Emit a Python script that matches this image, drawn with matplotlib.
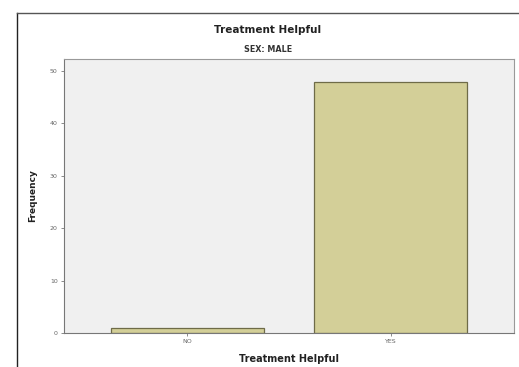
import matplotlib
matplotlib.use("Agg")
import matplotlib.pyplot as plt
from matplotlib.lines import Line2D

categories = ["NO", "YES"]
frequencies = [1, 48]
yticks = [0, 10, 20, 30, 40, 50]
title = "Treatment Helpful"
subtitle = "SEX: MALE"
xlabel = "Treatment Helpful"
ylabel = "Frequency"

fig = plt.figure(figsize=(5.19, 3.67), dpi=100)
W, H = 519, 367
ax = fig.add_axes([64 / W, 1 - 333 / H, (514 - 64) / W, (333 - 59) / H])
ax.set_facecolor("#f0f0f0")

x = list(range(len(categories)))
ax.bar(x, frequencies, width=0.75, color="#d3cf98", edgecolor="#6e6b48", linewidth=0.9)
ax.set_xlim(-0.603, 1.603)
ax.set_ylim(0, 52.3)
ax.set_yticks(yticks)
ax.set_yticklabels([str(t) for t in yticks], fontsize=4.5, color="#666666")
ax.set_xticks(x)
ax.set_xticklabels(categories, fontsize=4.5, color="#666666")
for s in ax.spines.values():
    s.set_color("#999999")
    s.set_linewidth(0.8)
ax.spines["left"].set_color("#777777")
ax.spines["bottom"].set_color("#777777")
ax.tick_params(axis="both", length=2.5, width=0.6, color="#777777", pad=2)

ax.set_xlabel(xlabel, fontsize=7, fontweight="bold", color="#222222", labelpad=7)
ax.set_ylabel(ylabel, fontsize=6.5, fontweight="bold", color="#222222", labelpad=9)

fig.text(268 / W, 1 - 30 / H, title, ha="center", va="center", fontsize=7.5, fontweight="bold", color="#222222")
fig.text(268 / W, 1 - 50 / H, subtitle, ha="center", va="center", fontsize=5.8, fontweight="bold", color="#333333")

# outer frame lines
fig.add_artist(Line2D([17 / W, 17 / W], [0, 1 - 13 / H], color="#222222", linewidth=1.0, transform=fig.transFigure))
fig.add_artist(Line2D([17 / W, 1], [1 - 13 / H, 1 - 13 / H], color="#555555", linewidth=1.0, transform=fig.transFigure))

fig.savefig("out.png", dpi=100)
